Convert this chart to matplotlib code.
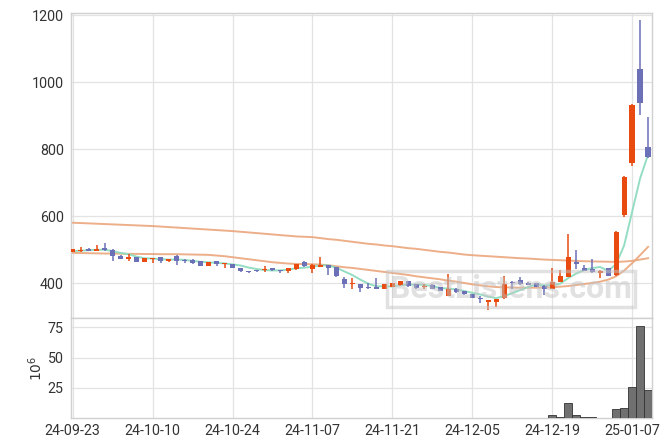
import matplotlib.pyplot as plt

# 일봉 OHLC (index = 거래일 순서)
opens = [494, 496, 502, 498, 505, 500, 482, 474, 478, 465,
         474, 478, 466, 483, 470, 470, 466, 453, 466, 458,
         458, 446, 437, 440, 439, 446, 440, 438, 442, 464,
         443, 450, 455, 449, 412, 398, 398, 389, 390, 384,
         390, 394, 407, 397, 389, 396, 388, 363, 383, 376,
         368, 356, 344, 345, 355, 403, 410, 402, 400, 392,
         383, 405, 420, 464, 447, 442, 430, 445, 425, 604,
         758, 1040, 808]
highs = [503, 507, 505, 514, 520, 502, 484, 487, 479, 476,
         477, 479, 474, 485, 472, 472, 467, 465, 467, 461,
         459, 447, 438, 441, 452, 447, 441, 447, 459, 466,
         458, 480, 456, 450, 418, 415, 399, 401, 415, 399,
         402, 408, 408, 398, 399, 397, 390, 428, 385, 377,
         369, 363, 351, 353, 421, 407, 419, 404, 402, 395,
         447, 440, 547, 501, 456, 472, 440, 447, 556, 720,
         934, 1186, 897]
lows = [493, 494, 496, 496, 496, 466, 473, 468, 464, 464,
        460, 460, 464, 454, 460, 457, 451, 451, 451, 445,
        445, 434, 431, 433, 433, 437, 431, 430, 440, 450,
        432, 449, 425, 418, 385, 383, 375, 383, 383, 383,
        389, 393, 390, 384, 383, 383, 376, 362, 371, 366,
        355, 342, 320, 330, 354, 383, 396, 394, 388, 365,
        382, 404, 418, 443, 436, 432, 415, 421, 423, 598,
        750, 904, 775]
closes = [502, 501, 498, 502, 499, 481, 474, 479, 465, 475,
          476, 466, 472, 468, 467, 462, 453, 464, 459, 460,
          447, 436, 434, 437, 444, 441, 437, 446, 458, 452,
          456, 455, 447, 422, 398, 401, 387, 386, 384, 397,
          400, 407, 392, 385, 392, 384, 377, 383, 373, 368,
          357, 353, 350, 352, 398, 401, 398, 396, 390, 384,
          403, 422, 479, 457, 437, 433, 438, 423, 554, 718,
          932, 939, 778]
# 거래량 (백만주)
volumes = [0.2, 0.2, 0.1, 0.2, 0.3, 0.3, 0.2, 0.2, 0.2, 0.1,
           0.2, 0.2, 0.1, 0.2, 0.1, 0.2, 0.2, 0.1, 0.1, 0.2,
           0.2, 0.2, 0.1, 0.1, 0.2, 0.1, 0.1, 0.2, 0.2, 0.2,
           0.2, 0.3, 0.2, 0.3, 0.3, 0.2, 0.2, 0.1, 0.2, 0.2,
           0.2, 0.2, 0.2, 0.1, 0.1, 0.1, 0.2, 0.3, 0.2, 0.2,
           0.2, 0.2, 0.3, 0.3, 0.6, 0.2, 0.3, 0.2, 0.2, 0.3,
           2.5, 0.8, 12.3, 2.6, 0.8, 0.8, 0.2, 0.2, 7.6, 8.4,
           25.6, 75.6, 23.2]
# 이동평균선
ma5 = [496, 497.5, 499, 500, 500.4, 496.2, 490.8, 487, 479.6, 474.8,
       473.8, 472.2, 470.8, 471.4, 469.8, 467, 464.4, 462.8, 461, 459.6,
       456.6, 453.2, 447.2, 442.8, 439.6, 438.4, 438.6, 441, 445.2, 446.8,
       449.8, 453.4, 453.6, 446.4, 435.6, 424.6, 411, 398.8, 391.2, 391,
       390.8, 394.8, 396, 396.2, 395.2, 392, 386, 384.2, 381.8, 377,
       371.6, 366.8, 360.2, 356, 362, 370.8, 379.8, 389, 396.6, 393.8,
       394.2, 399, 415.6, 429, 439.6, 445.6, 448.8, 437.6, 457, 513.2,
       613, 713.2, 784.2]
ma_mid = [491, 490.5, 490, 489.5, 489, 489, 488.5, 488, 488, 487.5,
          487.5, 487, 487, 487, 486.5, 486, 485.5, 485, 483, 481,
          478, 475, 472, 469, 466, 463, 461, 459, 458, 457.5,
          457, 456, 454, 451, 448, 446, 443, 440, 437, 434,
          431, 428, 425, 421, 418, 415, 412, 408, 405, 401,
          397, 394, 391, 389, 388, 387.5, 387, 387, 387, 387.5,
          388, 390, 392, 395, 398, 401, 405, 411, 421, 438,
          460, 484, 509]
ma_long = [581, 580, 579, 578, 577, 576, 575, 574, 573, 572,
           571, 569.5, 568, 566.5, 565, 563.5, 562, 560.5, 559, 557.5,
           556, 554, 552, 550, 548, 546, 544, 542, 540, 539,
           538, 535, 532, 530, 527, 524, 521, 518, 516, 513,
           511, 508, 505, 503, 500, 497, 494, 492, 489, 486,
           484, 482.5, 481, 479.5, 478, 476.5, 475, 474, 472.5, 471,
           470, 469, 468, 467, 466, 465.5, 465, 464.5, 464, 465,
           467, 471, 475]
tick_labels = ['24-09-23', '24-10-10', '24-10-24', '24-11-07',
               '24-11-21', '24-12-05', '24-12-19', '25-01-07']

plt.rcParams['font.family'] = ['Roboto', 'DejaVu Sans']

UP = '#e84a10'
DOWN = '#6c70b6'
GRID = '#e3e3e3'
SPINE = '#d0d0d0'
TXT = '#333333'

fig = plt.figure(figsize=(6.71, 4.47), dpi=100)
ax = fig.add_axes([0.1054, 0.2897, 0.8658, 0.6819])
axv = fig.add_axes([0.1054, 0.0642, 0.8658, 0.2255], sharex=ax)

x = list(range(len(closes)))
colors = [UP if c >= o else DOWN for o, c in zip(opens, closes)]
bottoms = [min(o, c) for o, c in zip(opens, closes)]
heights = [max(abs(c - o), 2) for o, c in zip(opens, closes)]

ax.plot(x, ma_long, color='#eaa67c', lw=1.4, alpha=0.9, zorder=2)
ax.plot(x, ma_mid, color='#eaa67c', lw=1.4, alpha=0.9, zorder=2)
ax.plot(x, ma5, color='#8edcbf', lw=1.4, alpha=0.95, zorder=2)
ax.vlines(x, lows, highs, colors=colors, lw=1.1, zorder=3)
ax.bar(x, heights, bottom=bottoms, width=0.65, color=colors, zorder=4)

ax.set_ylim(298, 1208)
ax.set_yticks([400, 600, 800, 1000, 1200])
ax.set_xlim(-0.25, 72.45)

axv.bar(x, volumes, width=1.0, color='#707070', edgecolor='#333333', lw=0.6, zorder=3)
axv.set_ylim(0, 83)
axv.set_yticks([25, 50, 75])
axv.set_ylabel('$10^6$', color=TXT, fontsize=10, labelpad=2)
axv.set_xticks(range(0, 71, 10))
axv.set_xticklabels(tick_labels)

for a in (ax, axv):
    a.grid(True, color=GRID, lw=0.9)
    a.set_axisbelow(True)
    a.tick_params(length=0, labelsize=10.3, colors=TXT, pad=5)
    for s in a.spines.values():
        s.set_color(SPINE)
        s.set_linewidth(1.0)
ax.tick_params(labelbottom=False)
axv.tick_params(axis='x', pad=4)

ax.text(0.758, 0.094, 'BestListens.com', transform=ax.transAxes,
        ha='center', va='center', fontsize=23, fontweight='bold',
        family='Roboto', color='#c4c4c4', alpha=0.5, zorder=10,
        bbox=dict(boxstyle='square,pad=0.1', facecolor='none',
                  edgecolor='#c4c4c4', lw=2.5, alpha=0.5))

fig.savefig('out.png', dpi=100)
